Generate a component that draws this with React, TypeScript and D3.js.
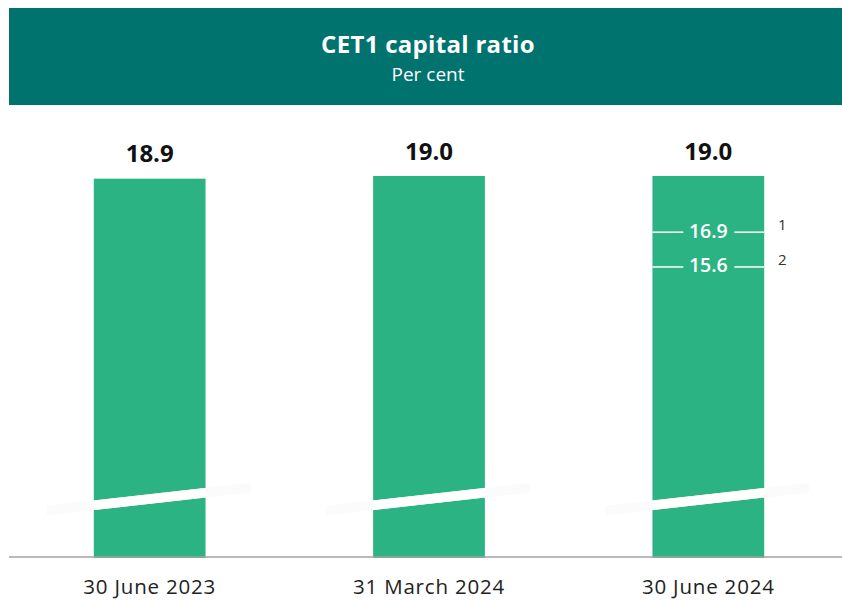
import React from 'react';
import * as d3 from 'd3';

const categories = ['30 June 2023', '31 March 2024', '30 June 2024'];
const values = [18.9, 19.0, 19.0];
const refValues = [16.9, 15.6];
const refNotes = ['1', '2'];
const refCategory = '30 June 2024';
const title = 'CET1 capital ratio';
const subtitle = 'Per cent';

const W = 842;
const H = 601;
const FONT = "'Open Sans', 'Noto Sans', sans-serif";
const TEAL = '#00736f';
const GREEN = '#2bb383';

export default function App() {
  const baseY = 557;
  const x = d3.scaleBand<string>().domain(categories).range([10, 848]).paddingInner(0.6).paddingOuter(0.3);
  const y = d3.scaleLinear().domain([4.76, 19.0]).range([baseY, 176]);
  const bw = x.bandwidth();
  const fmt = d3.format('.1f');
  const slope = -0.1126;
  const breakY = 499;
  const halfT = 4.8;

  const band = (x0: number, x1: number, cx: number) => {
    const yc = (xx: number) => breakY + slope * (xx - cx);
    return `M${x0},${yc(x0) - halfT}L${x1},${yc(x1) - halfT}L${x1},${yc(x1) + halfT}L${x0},${yc(x0) + halfT}Z`;
  };

  return (
    <svg width={W} height={H} style={{ position: 'absolute', left: 0, top: 0, background: '#fff' }} fontFamily={FONT}>
      <rect x={9} y={8} width={W - 9} height={97} fill={TEAL} />
      <text x={428} y={53} textAnchor="middle" fill="#fff" fontSize={24} fontWeight={700} letterSpacing={0.3}>{title}</text>
      <text x={428} y={81} textAnchor="middle" fill="#fff" fontSize={19}>{subtitle}</text>

      {categories.map((c, i) => {
        const x0 = x(c)!;
        const cx = x0 + bw / 2;
        return (
          <g key={c}>
            <rect x={x0} y={y(values[i])} width={bw} height={baseY + 1 - y(values[i])} fill={GREEN} />
            <path d={band(cx - 103, cx + 101, cx)} fill="#fbfbfb" />
            <path d={band(x0, x0 + bw, cx)} fill="#fff" />
            <text x={cx} y={y(values[i]) - 16.5} textAnchor="middle" fontSize={24} fontWeight={700} fill="#111">{fmt(values[i])}</text>
            <text x={cx} y={594} textAnchor="middle" fontSize={20.5} letterSpacing={0.8} fill="#222">{c}</text>
          </g>
        );
      })}

      {refValues.map((v, j) => {
        const x0 = x(refCategory)!;
        const cx = x0 + bw / 2;
        const yy = y(v);
        return (
          <g key={v}>
            <line x1={x0} x2={cx - 25} y1={yy} y2={yy} stroke="#fff" strokeWidth={1.5} />
            <line x1={cx + 26} x2={x0 + bw} y1={yy} y2={yy} stroke="#fff" strokeWidth={1.5} />
            <text x={cx} y={yy + 5.5} textAnchor="middle" fontSize={19.5} fontWeight={600} fill="#fff">{fmt(v)}</text>
            <text x={x0 + bw + 18} y={yy - 2} textAnchor="middle" fontSize={15} fill="#333">{refNotes[j]}</text>
          </g>
        );
      })}

      <line x1={9} x2={W} y1={baseY} y2={baseY} stroke="#a3a3a3" strokeWidth={1.5} />
    </svg>
  );
}
